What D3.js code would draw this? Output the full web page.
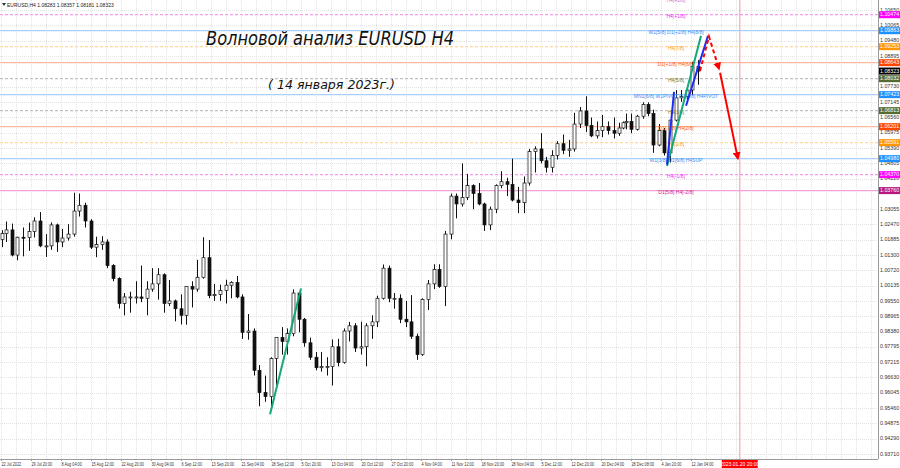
<!DOCTYPE html>
<html><head><meta charset="utf-8">
<script src="https://cdn.jsdelivr.net/npm/d3@7"></script>
<style>body{margin:0;background:#fff}svg{display:block}</style>
</head><body><svg id="c" width="900" height="468"></svg>
<script>
// ---------------- data ----------------
const symbolInfo = "EURUSD,H4";
const lastBarOHLC = [1.08283, 1.08357, 1.08181, 1.08323];
// one candle per trading day, 22 Jul 2022 .. 13 Jan 2023: [open, high, low, close]
const candles = [
[1.0190,1.0225,1.0160,1.0212],
[1.0212,1.0258,1.0180,1.0226],[1.0226,1.0250,1.0125,1.0130],[1.0130,1.0200,1.0110,1.0198],[1.0198,1.0235,1.0125,1.0197],[1.0197,1.0254,1.0146,1.0220],
[1.0220,1.0274,1.0197,1.0260],[1.0260,1.0294,1.0160,1.0165],[1.0165,1.0210,1.0123,1.0165],[1.0165,1.0255,1.0150,1.0245],[1.0245,1.0250,1.0142,1.0180],
[1.0180,1.0230,1.0160,1.0195],[1.0195,1.0248,1.0185,1.0210],[1.0210,1.0368,1.0200,1.0298],[1.0298,1.0365,1.0277,1.0320],[1.0320,1.0330,1.0235,1.0260],
[1.0260,1.0267,1.0153,1.0160],[1.0160,1.0200,1.0122,1.0170],[1.0170,1.0202,1.0150,1.0180],[1.0180,1.0190,1.0080,1.0090],[1.0090,1.0095,1.0030,1.0040],
[1.0040,1.0045,0.9926,0.9945],[0.9945,0.9985,0.9900,0.9970],[0.9970,0.9990,0.9910,0.9970],[0.9970,1.0030,0.9945,0.9970],[0.9970,1.0090,0.9950,0.9965],
[0.9965,1.0030,0.9900,1.0000],[1.0000,1.0080,0.9990,1.0020],[1.0020,1.0080,0.9960,1.0055],[1.0055,1.0060,0.9910,0.9945],[0.9945,1.0035,0.9935,0.9955],
[0.9955,0.9960,0.9877,0.9925],[0.9925,0.9980,0.9865,0.9900],[0.9900,1.0010,0.9864,1.0010],[1.0010,1.0030,0.9930,1.0000],[1.0000,1.0112,0.9990,1.0045],
[1.0045,1.0198,1.0040,1.0120],[1.0120,1.0187,0.9965,0.9975],[0.9975,1.0020,0.9955,0.9980],[0.9980,1.0017,0.9955,0.9995],[0.9995,1.0036,0.9945,1.0015],
[1.0015,1.0030,0.9965,1.0025],[1.0025,1.0050,0.9965,0.9970],[0.9970,0.9980,0.9810,0.9835],[0.9835,0.9905,0.9807,0.9840],[0.9840,0.9850,0.9670,0.9690],
[0.9690,0.9710,0.9553,0.9605],[0.9605,0.9670,0.9570,0.9590],[0.9590,0.9740,0.9536,0.9735],[0.9735,0.9815,0.9635,0.9815],[0.9815,0.9855,0.9750,0.9800],
[0.9800,0.9850,0.9750,0.9830],[0.9830,0.9999,0.9820,0.9985],[0.9985,0.9990,0.9835,0.9885],[0.9885,0.9890,0.9780,0.9795],[0.9795,0.9815,0.9730,0.9740],
[0.9740,0.9760,0.9690,0.9700],[0.9700,0.9760,0.9685,0.9705],[0.9705,0.9740,0.9670,0.9705],[0.9705,0.9808,0.9632,0.9780],[0.9780,0.9810,0.9705,0.9720],
[0.9720,0.9850,0.9715,0.9840],[0.9840,0.9875,0.9800,0.9860],[0.9860,0.9870,0.9760,0.9775],[0.9775,0.9876,0.9750,0.9780],[0.9780,0.9870,0.9705,0.9860],
[0.9860,0.9900,0.9810,0.9875],[0.9875,0.9975,0.9855,0.9965],[0.9965,1.0094,0.9960,1.0080],[1.0080,1.0090,0.9950,0.9965],[0.9965,0.9985,0.9925,0.9965],
[0.9965,0.9980,0.9870,0.9885],[0.9885,0.9955,0.9855,0.9875],[0.9875,0.9977,0.9810,0.9820],[0.9820,0.9830,0.9730,0.9750],[0.9750,0.9965,0.9745,0.9960],
[0.9960,1.0035,0.9920,1.0020],[1.0020,1.0095,1.0000,1.0075],[1.0075,1.0095,1.0005,1.0010],[1.0010,1.0222,0.9935,1.0210],[1.0210,1.0365,1.0190,1.0355],
[1.0355,1.0365,1.0270,1.0325],[1.0325,1.0480,1.0315,1.0350],[1.0350,1.0440,1.0340,1.0395],[1.0395,1.0400,1.0305,1.0365],[1.0365,1.0405,1.0320,1.0325],
[1.0325,1.0330,1.0222,1.0245],[1.0245,1.0315,1.0225,1.0305],[1.0305,1.0400,1.0290,1.0395],[1.0395,1.0450,1.0385,1.0410],[1.0410,1.0425,1.0355,1.0400],
[1.0400,1.0498,1.0335,1.0340],[1.0340,1.0390,1.0290,1.0330],[1.0330,1.0430,1.0290,1.0405],[1.0405,1.0535,1.0395,1.0525],[1.0525,1.0545,1.0445,1.0535],
[1.0535,1.0595,1.0480,1.0490],[1.0490,1.0505,1.0445,1.0465],[1.0465,1.0530,1.0445,1.0510],[1.0510,1.0565,1.0495,1.0555],[1.0555,1.0590,1.0515,1.0530],
[1.0530,1.0570,1.0505,1.0535],[1.0535,1.0673,1.0525,1.0630],[1.0630,1.0695,1.0615,1.0680],[1.0680,1.0736,1.0600,1.0625],[1.0625,1.0655,1.0580,1.0585],
[1.0585,1.0640,1.0575,1.0605],[1.0605,1.0665,1.0580,1.0620],[1.0620,1.0640,1.0590,1.0605],[1.0605,1.0655,1.0575,1.0595],[1.0595,1.0635,1.0585,1.0615],
[1.0615,1.0640,1.0610,1.0635],[1.0635,1.0670,1.0610,1.0640],[1.0640,1.0670,1.0595,1.0610],[1.0610,1.0665,1.0605,1.0660],[1.0660,1.0713,1.0650,1.0705],
[1.0705,1.0713,1.0660,1.0670],[1.0670,1.0685,1.0520,1.0550],[1.0550,1.0630,1.0545,1.0605],[1.0605,1.0615,1.0510,1.0520],[1.0520,1.0645,1.0483,1.0645],
[1.0645,1.0760,1.0640,1.0730],[1.0730,1.0760,1.0715,1.0735],[1.0735,1.0775,1.0710,1.0760],[1.0760,1.0868,1.0740,1.0850],[1.0850,1.0874,1.0780,1.08323]
];
const barsPerDay = 6;                       // H4 bars in a normal trading day
const shortDays = {0:3, 111:1, 116:5};      // day index -> H4 bars (22 Jul partial, 26 Dec, 2 Jan)

const priceTicks = [1.10650,1.10065,1.09480,1.08895,1.07730,1.07145,1.06560,1.05975,1.05390,1.04805,1.04220,
  1.03055,1.02470,1.01885,1.01300,1.00720,1.00135,0.99550,0.98965,0.98380,0.97795,0.97215,0.96630,0.96045,
  0.95460,0.94875,0.94290,0.93710];
const timeLabels = ["22 Jul 2022","29 Jul 20:00","8 Aug 04:00","15 Aug 12:00","22 Aug 20:00","30 Aug 04:00",
  "6 Sep 12:00","13 Sep 20:00","21 Sep 04:00","28 Sep 12:00","5 Oct 20:00","13 Oct 04:00","20 Oct 12:00",
  "27 Oct 20:00","4 Nov 04:00","11 Nov 12:00","18 Nov 20:00","28 Nov 04:00","5 Dec 12:00","12 Dec 20:00",
  "20 Dec 04:00","28 Dec 08:00","4 Jan 20:00","12 Jan 04:00"];
const barsPerTimeLabel = 32;

const levelPrices = [1.11085,1.10474,1.09863,1.09253,1.08643,1.08032,1.07423,1.06813,1.06201,1.05591,1.04980,1.04370,1.03760];
const levelLabels = ["H4[+2/8]","H4[+1/8]","W1[5/8] D1[+2/8] H4[8/8]","H4[7/8]","D1[+1/8] H4[6/8]","H4[5/8]",
  "MN1[6/8] W1PIVOT D1[0/8] H4PIVOT","H4[3/8]","D1[-1/8] H4[2/8]","H4[1/8]","W1[3/8] D1[6/8] H4SUP","H4[-1/8]","D1[5/8] H4[-2/8]"];
const levelKinds = ["ext","ext1","main","q","h","g","main","g","h","q","main","ext1","ext2"];
const levelLabelBar = 720;
const currentPrice = 1.08323;

const futureLineBar = 788;
const futureLineLabel = "2023.01.20 20:00";

const greenLines = [ [[287,0.9522],[320,1.0002]], [[710.4,1.0470],[746.7,1.0967]] ];
const blueLines  = [ [[710.4,1.0475],[717.9,1.0753]], [[730.7,1.0700],[754.1,1.0967]] ];
const redDashed  = [[745.6,1.0833],[755.2,1.0964],[765.9,1.0840]];
const redSolid   = [[767,1.0826],[786,1.0498]];

const titleText = "Волновой анализ EURUSD H4";
const subtitleText = "( 14 января 2023г.)";

// ---------------- styles ----------------
const kindStyle = {
  ext:  {line:"#f29cf2", dash:"3,2", text:"#d070d0", box:"#ff00ff"},
  ext1: {line:"#f29cf2", dash:"3,2", text:"#ee33ee", box:"#ff00ff"},
  ext2: {line:"#f0a0d8", dash:null,  text:"#cc2299", box:"#b5177d"},
  main: {line:"#a8d0f8", dash:null,  text:"#3d8ef0", box:"#1e90ff"},
  q:    {line:"#ffd8a0", dash:"3,2", text:"#ff9a20", box:"#ff9500"},
  h:    {line:"#ffb8a0", dash:null,  text:"#ff5a20", box:"#ff4500"},
  g:    {line:"#c0c0c0", dash:"3,2", text:"#6b7d3a", box:"#556b2f"}
};
const FONT = "'Liberation Sans', Arial, sans-serif";

// ---------------- scales ----------------
const plotR = 878, plotB = 459;
const x = d3.scaleLinear().domain([0, 32]).range([1, 31]);
const y = d3.scaleLinear().domain([0.9371, 1.1065]).range([453.9, 10.1]);

const svg = d3.select("#c");
svg.append("rect").attr("width",900).attr("height",468).attr("fill","#fff");
const defs = svg.append("defs");
defs.append("clipPath").attr("id","plot").append("rect").attr("x",0).attr("y",0).attr("width",plotR).attr("height",plotB);
defs.append("marker").attr("id","arrowRed").attr("viewBox","0 0 10 10").attr("refX",8).attr("refY",5)
  .attr("markerWidth",4).attr("markerHeight",4).attr("orient","auto").attr("markerUnits","strokeWidth")
  .append("path").attr("d","M0,0 L10,5 L0,10 z").attr("fill","#ff0000");

const plot = svg.append("g").attr("clip-path","url(#plot)");

// grid
const xMaxBar = x.invert(plotR);
plot.append("g").selectAll("line").data(d3.range(0, xMaxBar, barsPerTimeLabel/2)).join("line")
  .attr("x1",d=>x(d)+0.5).attr("x2",d=>x(d)+0.5).attr("y1",0).attr("y2",plotB)
  .attr("stroke","#e3e3e3").attr("stroke-dasharray","1,1");
plot.append("g").selectAll("line").data(priceTicks).join("line")
  .attr("x1",0).attr("x2",plotR).attr("y1",d=>Math.round(y(d))+0.5).attr("y2",d=>Math.round(y(d))+0.5)
  .attr("stroke","#e3e3e3").attr("stroke-dasharray","1,1");

// future time line
plot.append("line").attr("x1",x(futureLineBar)).attr("x2",x(futureLineBar)).attr("y1",0).attr("y2",plotB)
  .attr("stroke","#f7b9b9").attr("stroke-width",1.5);

// level lines
const lv = levelPrices.map((p,i)=>({p, label:levelLabels[i], s:kindStyle[levelKinds[i]]}));
plot.append("g").selectAll("line").data(lv).join("line")
  .attr("x1",0).attr("x2",plotR).attr("y1",d=>y(d.p)).attr("y2",d=>y(d.p))
  .attr("stroke",d=>d.s.line).attr("stroke-width",1.2).attr("stroke-dasharray",d=>d.s.dash);

// candles (one per trading day, placed on the H4 bar axis)
let startBar = 0;
const cdata = candles.map((c,i)=>{
  const n = shortDays[i] !== undefined ? shortDays[i] : barsPerDay;
  const d = {o:c[0],h:c[1],l:c[2],c:c[3], bar: startBar + (n-1)/2};
  startBar += n;
  return d;
});
const cg = plot.append("g");
cg.selectAll("line").data(cdata).join("line")
  .attr("x1",d=>Math.round(x(d.bar))+0.5).attr("x2",d=>Math.round(x(d.bar))+0.5)
  .attr("y1",d=>y(d.h)).attr("y2",d=>y(d.l)).attr("stroke","#111").attr("stroke-width",1);
cg.selectAll("rect").data(cdata).join("rect")
  .attr("x",d=>Math.round(x(d.bar))-1).attr("width",3)
  .attr("y",d=>y(Math.max(d.o,d.c))).attr("height",d=>Math.max(1,Math.abs(y(d.o)-y(d.c))))
  .attr("fill",d=>d.c>=d.o?"#fff":"#111").attr("stroke","#111").attr("stroke-width",0.7);

// level labels
plot.append("g").selectAll("text").data(lv).join("text")
  .attr("x",x(levelLabelBar)).attr("y",d=>y(d.p)+2).attr("text-anchor","middle").attr("dominant-baseline","middle")
  .attr("font-family",FONT).attr("font-size",5).attr("fill",d=>d.s.text).text(d=>d.label);

// trend lines
const line = d3.line().x(d=>x(d[0])).y(d=>y(d[1]));
plot.append("g").selectAll("path").data(greenLines).join("path").attr("d",line)
  .attr("stroke","#12a87a").attr("stroke-width",2).attr("fill","none");
plot.append("g").selectAll("path").data(blueLines).join("path").attr("d",line)
  .attr("stroke","#1f2cf0").attr("stroke-width",2).attr("fill","none");
plot.append("path").attr("d",line(redDashed)).attr("stroke","#ff0000").attr("stroke-width",2)
  .attr("stroke-dasharray","4,3").attr("fill","none").attr("marker-end","url(#arrowRed)");
plot.append("path").attr("d",line(redSolid)).attr("stroke","#ff0000").attr("stroke-width",2)
  .attr("fill","none").attr("marker-end","url(#arrowRed)");

// title texts
plot.append("text").attr("x",206).attr("y",45).attr("font-family","'DejaVu Sans', sans-serif").attr("font-style","italic")
  .attr("font-size",19).attr("fill","#111").attr("textLength",248).attr("lengthAdjust","spacingAndGlyphs").text(titleText);
plot.append("text").attr("x",268).attr("y",89).attr("font-family","'DejaVu Sans', sans-serif").attr("font-style","italic")
  .attr("font-size",13).attr("fill","#111").attr("textLength",127).attr("lengthAdjust","spacingAndGlyphs").text(subtitleText);

// info text top-left
svg.append("path").attr("d","M2,3 L6,3 L4,6 z").attr("fill","#333");
svg.append("text").attr("x",7).attr("y",6.5).attr("font-family",FONT).attr("font-size",5).attr("fill","#222")
  .text(symbolInfo + "  " + lastBarOHLC.map(v=>v.toFixed(5)).join(" "));

// frame
svg.append("line").attr("x1",plotR+0.5).attr("x2",plotR+0.5).attr("y1",0).attr("y2",plotB).attr("stroke","#9a9a9a");
svg.append("line").attr("x1",0).attr("x2",plotR).attr("y1",plotB+0.5).attr("y2",plotB+0.5).attr("stroke","#9a9a9a");

// price axis labels
svg.append("g").selectAll("text").data(priceTicks).join("text")
  .attr("x",plotR+2).attr("y",d=>y(d)+0.2).attr("dominant-baseline","middle")
  .attr("font-family",FONT).attr("font-size",5.3).attr("fill","#333").text(d=>d.toFixed(5));
// level price boxes
const boxes = lv.filter(d=>d.p < 1.1065).map(d=>({p:d.p, fill:d.s.box}));
boxes.push({p:currentPrice, fill:"#000"});
const bg = svg.append("g").selectAll("g").data(boxes).join("g");
bg.append("rect").attr("x",plotR+1).attr("y",d=>y(d.p)-3.5).attr("width",21).attr("height",7).attr("fill",d=>d.fill);
bg.append("text").attr("x",plotR+2).attr("y",d=>y(d.p)+0.3).attr("dominant-baseline","middle")
  .attr("font-family",FONT).attr("font-size",5.3).attr("fill","#fff").text(d=>d.p.toFixed(5));

// time axis labels
const tl = timeLabels.map((t,i)=>({t, bar:i*barsPerTimeLabel}));
svg.append("g").selectAll("line").data(tl).join("line")
  .attr("x1",d=>x(d.bar)+0.5).attr("x2",d=>x(d.bar)+0.5).attr("y1",plotB).attr("y2",plotB+2).attr("stroke","#9a9a9a");
svg.append("g").selectAll("text").data(tl).join("text")
  .attr("x",d=>x(d.bar)+0.5).attr("y",466).attr("font-family",FONT).attr("font-size",5).attr("fill","#333").text(d=>d.t)
  .each(function(){ const w=this.getComputedTextLength(); d3.select(this).attr("textLength",w*0.76).attr("lengthAdjust","spacingAndGlyphs"); });
// future time box
svg.append("rect").attr("x",x(futureLineBar)-18).attr("y",460).attr("width",36).attr("height",8).attr("fill","#ff0000");
svg.append("text").attr("x",x(futureLineBar)).attr("y",466).attr("text-anchor","middle").attr("font-family",FONT)
  .attr("font-size",5).attr("fill","#fff").text(futureLineLabel);
</script></body></html>
